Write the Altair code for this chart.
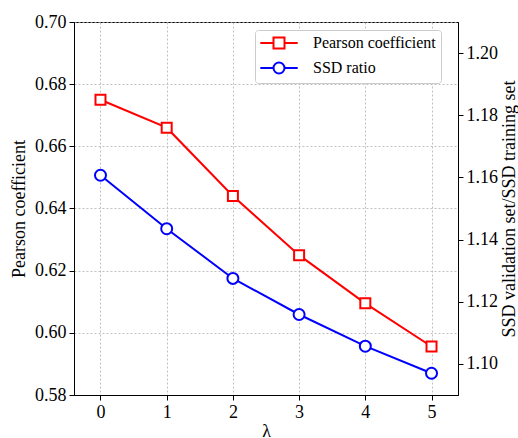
import altair as alt
import pandas as pd

# lambda values on the x axis
lam = [0, 1, 2, 3, 4, 5]
# Pearson coefficient (left axis)
pearson = [0.675, 0.666, 0.644, 0.625, 0.6095, 0.5956]
# SSD validation set / SSD training set (right axis)
ssd_ratio = [1.1607, 1.1435, 1.1275, 1.1159, 1.1057, 1.0970]

series_names = ["Pearson coefficient", "SSD ratio"]
series_colors = ["red", "blue"]

left_ticks = [0.58, 0.60, 0.62, 0.64, 0.66, 0.68, 0.70]
right_ticks = [1.10, 1.12, 1.14, 1.16, 1.18, 1.20]

FONT = "Liberation Serif"

df_p = pd.DataFrame({"lam": lam, "value": pearson, "series": series_names[0]})
df_s = pd.DataFrame({"lam": lam, "value": ssd_ratio, "series": series_names[1]})

x_enc = alt.X(
    "lam:Q",
    scale=alt.Scale(domain=[-0.4, 5.4], nice=False, zero=False),
    axis=alt.Axis(values=lam, format="d", title="λ", grid=True, titlePadding=1),
)

# legend glyphs: a short line with the marker drawn in its middle
square_path = "M-3.4,0H-1M1,0H3.4M-1,-1H1V1H-1Z"
circle_path = "M-3.4,0H-1M1,0H3.4M1,0A1,1,0,1,1,-1,0A1,1,0,1,1,1,0Z"
shape_expr = f"datum.value === '{series_names[1]}' ? '{circle_path}' : '{square_path}'"

legend = alt.Legend(
    title=None,
    orient="none",
    legendX=181,
    legendY=8,
    direction="vertical",
    labelFont=FONT,
    labelFontSize=16,
    labelColor="black",
    symbolType=alt.ExprRef(shape_expr),
    symbolSize=121,
    symbolStrokeWidth=2,
    symbolFillColor="white",
    symbolOpacity=1,
    symbolOffset=11,
    labelOffset=26,
    padding=5,
    rowPadding=5,
    strokeColor="#cccccc",
    fillColor="white",
    cornerRadius=3,
)

color_enc = alt.Color(
    "series:N",
    scale=alt.Scale(domain=series_names, range=series_colors),
    legend=legend,
)

left_y = alt.Y(
    "value:Q",
    scale=alt.Scale(domain=[0.58, 0.70], nice=False, zero=False),
    axis=alt.Axis(
        title="Pearson coefficient",
        values=left_ticks,
        format=".2f",
        grid=True,
        titlePadding=6,
    ),
)

right_y = alt.Y(
    "value:Q",
    scale=alt.Scale(domain=[1.09, 1.21], nice=False, zero=False),
    axis=alt.Axis(
        orient="right",
        title="SSD validation set/SSD training set",
        values=right_ticks,
        format=".2f",
        grid=False,
        titleAngle=-90,
        titleBaseline="top",
        titlePadding=3,
    ),
)

pearson_line = alt.Chart(df_p).mark_line(strokeWidth=2).encode(
    x=x_enc, y=left_y, color=color_enc
)
pearson_pts = alt.Chart(df_p).mark_point(
    shape="square", size=100, stroke="red", fill="white", strokeWidth=2, opacity=1
).encode(x=x_enc, y=left_y)

ssd_line = alt.Chart(df_s).mark_line(strokeWidth=2).encode(
    x=x_enc, y=right_y, color=color_enc
)
ssd_pts = alt.Chart(df_s).mark_point(
    shape="circle", size=121, stroke="blue", fill="white", strokeWidth=2, opacity=1
).encode(x=x_enc, y=right_y)

left = alt.layer(pearson_line, pearson_pts)
right = alt.layer(ssd_line, ssd_pts)

chart = (
    alt.layer(left, right)
    .resolve_scale(y="independent")
    .properties(
        width=384,
        height=373,
        padding={"left": 74, "top": 22, "right": 60, "bottom": 43},
        autosize=alt.AutoSizeParams(type="none"),
        background="white",
    )
    .configure_view(stroke="black", strokeWidth=1)
    .configure_axis(
        labelFont=FONT,
        titleFont=FONT,
        labelFontSize=18,
        titleFontSize=18,
        titleFontWeight="normal",
        labelColor="black",
        titleColor="black",
        domainColor="black",
        tickColor="black",
        tickSize=5,
        labelPadding=3,
        gridColor="#b0b0b0",
        gridDash=[2, 2],
        gridWidth=0.8,
    )
)

chart.save("out.html", embed_options={"renderer": "svg", "actions": False})
